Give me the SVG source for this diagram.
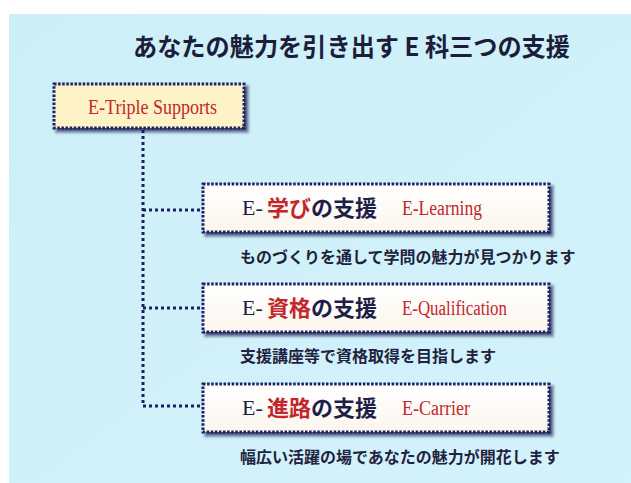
<svg xmlns="http://www.w3.org/2000/svg" width="631" height="483" viewBox="0 0 631 483">
  <defs>
    <linearGradient id="bg" x1="0" y1="0" x2="1" y2="1">
      <stop offset="0" stop-color="#cdeff8"/>
      <stop offset="1" stop-color="#d3f3fb"/>
    </linearGradient>
    <linearGradient id="boxfill" x1="0" y1="0" x2="0" y2="1">
      <stop offset="0" stop-color="#ffffff"/>
      <stop offset="1" stop-color="#fbf6ee"/>
    </linearGradient>
    <filter id="shadow" x="-10%" y="-20%" width="130%" height="160%">
      <feDropShadow dx="3" dy="3" stdDeviation="1.8" flood-color="#0d1440" flood-opacity="0.75"/>
    </filter>
  </defs>
  <style>
    .box { stroke: #1b2166; stroke-width: 3; stroke-dasharray: 2.5 1.6; }
    .conn { fill: none; stroke: #1b2166; stroke-width: 3; stroke-dasharray: 3 3; }
    .jp { font-family: "Noto Sans CJK JP", sans-serif; font-weight: 700; }
    .title { font-size: 25px; fill: #1c1d3a; }
    .sub { font-size: 16px; fill: #222240; }
    .lbl { font-size: 22px; }
    .navy { fill: #1e1f48; }
    .red { fill: #c3262b; }
    .en { font-family: "Liberation Serif", serif; }
  </style>

  <rect x="9" y="14" width="622" height="469" fill="url(#bg)"/>

  <g id="title">
    <text class="jp title" x="133" y="56" textLength="437" lengthAdjust="spacingAndGlyphs">あなたの魅力を引き出す E 科三つの支援</text>
  </g>

  <g id="connectors">
    <path class="conn" d="M143 130 V406"/>
    <path class="conn" d="M143 210 H203"/>
    <path class="conn" d="M143 308 H203"/>
    <path class="conn" d="M143 406 H203"/>
  </g>

  <g id="root">
    <rect class="box" x="54" y="84" width="190" height="44" fill="#fdf3c6" filter="url(#shadow)"/>
    <text class="en red" x="88" y="114" font-size="21" textLength="129" lengthAdjust="spacingAndGlyphs">E-Triple Supports</text>
  </g>

  <g id="learning">
    <rect class="box" x="203" y="184" width="346" height="48" fill="url(#boxfill)" filter="url(#shadow)"/>
    <text class="en navy" x="242" y="215" font-size="22">E-</text>
    <text class="jp lbl" x="267" y="216"><tspan class="red">学び</tspan><tspan class="navy">の支援</tspan></text>
    <text class="en red" x="402" y="215" font-size="20" textLength="80" lengthAdjust="spacingAndGlyphs">E-Learning</text>
    <text class="jp sub" x="240" y="263">ものづくりを通して学問の魅力が見つかります</text>
  </g>

  <g id="qualification">
    <rect class="box" x="203" y="284" width="346" height="48" fill="url(#boxfill)" filter="url(#shadow)"/>
    <text class="en navy" x="242" y="315" font-size="22">E-</text>
    <text class="jp lbl" x="267" y="316"><tspan class="red">資格</tspan><tspan class="navy">の支援</tspan></text>
    <text class="en red" x="402" y="315" font-size="20" textLength="105" lengthAdjust="spacingAndGlyphs">E-Qualification</text>
    <text class="jp sub" x="240" y="362">支援講座等で資格取得を目指します</text>
  </g>

  <g id="carrier">
    <rect class="box" x="203" y="384" width="346" height="48" fill="url(#boxfill)" filter="url(#shadow)"/>
    <text class="en navy" x="242" y="415" font-size="22">E-</text>
    <text class="jp lbl" x="267" y="416"><tspan class="red">進路</tspan><tspan class="navy">の支援</tspan></text>
    <text class="en red" x="402" y="415" font-size="20" textLength="68" lengthAdjust="spacingAndGlyphs">E-Carrier</text>
    <text class="jp sub" x="240" y="463">幅広い活躍の場であなたの魅力が開花します</text>
  </g>
</svg>
